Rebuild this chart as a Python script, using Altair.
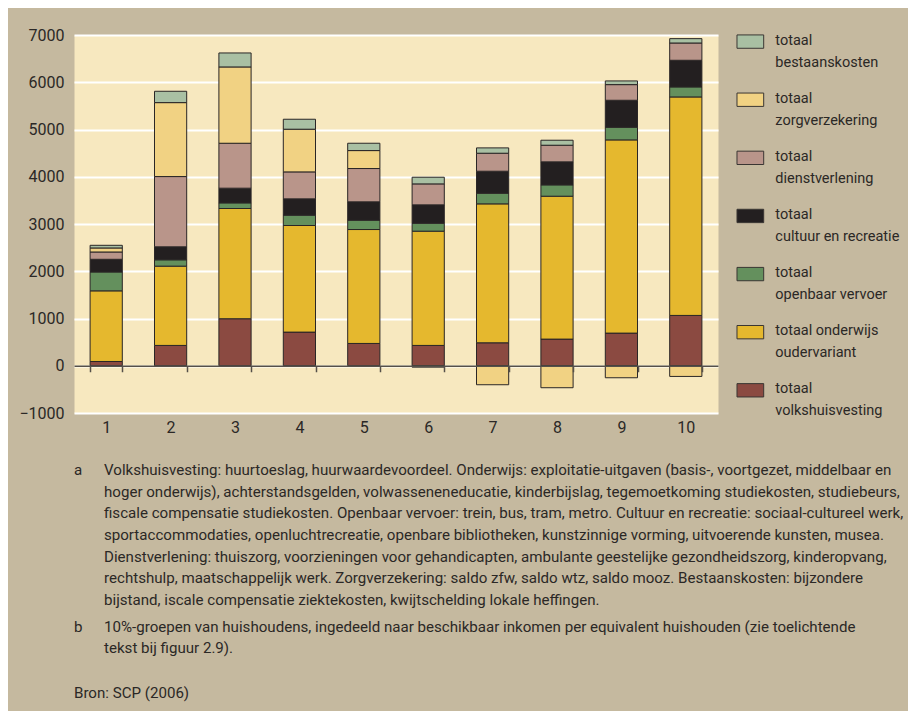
import altair as alt
import pandas as pd

# ---------------- data ----------------
groups = ["1", "2", "3", "4", "5", "6", "7", "8", "9", "10"]

volkshuisvesting = [90, 430, 995, 712, 472, 430, 486, 564, 691, 1065]
onderwijs = [1495, 1678, 2333, 2256, 2411, 2418, 2940, 3024, 4089, 4624]
openbaar_vervoer = [400, 134, 119, 219, 198, 169, 226, 240, 268, 212]
cultuur_recreatie = [268, 275, 311, 345, 388, 388, 465, 487, 571, 564]
dienstverlening = [155, 1487, 951, 571, 705, 444, 381, 352, 331, 366]
zorgverzekering = [85, 1565, 1615, 903, 380, -30, -402, -465, -254, -226]
bestaanskosten = [56, 240, 296, 211, 155, 141, 113, 106, 78, 92]

# stacking order: bottom -> top
categories = [
    "totaal volkshuisvesting",
    "totaal onderwijs oudervariant",
    "totaal openbaar vervoer",
    "totaal cultuur en recreatie",
    "totaal dienstverlening",
    "totaal zorgverzekering",
    "totaal bestaanskosten",
]
label_line1 = ["totaal", "totaal onderwijs", "totaal", "totaal", "totaal", "totaal", "totaal"]
label_line2 = ["volkshuisvesting", "oudervariant", "openbaar vervoer",
               "cultuur en recreatie", "dienstverlening", "zorgverzekering", "bestaanskosten"]
colors = ["#8b4a41", "#e5b82e", "#64905d", "#231f20", "#b9958a", "#f1d283", "#a9c0a3"]
series = [volkshuisvesting, onderwijs, openbaar_vervoer, cultuur_recreatie,
          dienstverlening, zorgverzekering, bestaanskosten]

y_ticks = [-1000, 0, 1000, 2000, 3000, 4000, 5000, 6000, 7000]

note_a = [
    "Volkshuisvesting: huurtoeslag, huurwaardevoordeel. Onderwijs: exploitatie-uitgaven (basis-, voortgezet, middelbaar en",
    "hoger onderwijs), achterstandsgelden, volwasseneneducatie, kinderbijslag, tegemoetkoming studiekosten, studiebeurs,",
    "fiscale compensatie studiekosten. Openbaar vervoer: trein, bus, tram, metro. Cultuur en recreatie: sociaal-cultureel werk,",
    "sportaccommodaties, openluchtrecreatie, openbare bibliotheken, kunstzinnige vorming, uitvoerende kunsten, musea.",
    "Dienstverlening: thuiszorg, voorzieningen voor gehandicapten, ambulante geestelijke gezondheidszorg, kinderopvang,",
    "rechtshulp, maatschappelijk werk. Zorgverzekering: saldo zfw, saldo wtz, saldo mooz. Bestaanskosten: bijzondere",
    "bijstand, iscale compensatie ziektekosten, kwijtschelding lokale heffingen.",
]
note_b = [
    "10%-groepen van huishoudens, ingedeeld naar beschikbaar inkomen per equivalent huishouden (zie toelichtende",
    "tekst bij figuur 2.9).",
]
source_text = "Bron: SCP (2006)"

# ---------------- tables ----------------
rows = []
for k, (cat, vals) in enumerate(zip(categories, series)):
    for g, v in zip(groups, vals):
        rows.append({"group": g, "category": cat, "value": v, "order": k})
df = pd.DataFrame(rows)

legend_order = categories[::-1]
legend_colors = colors[::-1]
leg_df = pd.DataFrame({
    "category": categories,
    "label": [a + "\n" + b for a, b in zip(label_line1, label_line2)],
})

NOTE_GAP = 0.23
SOURCE_GAP = 1.08
body_rows, tag_rows = [], []
r = 0.0
for i, line in enumerate(note_a):
    body_rows.append({"row": r, "text": line})
    if i == 0:
        tag_rows.append({"row": r, "text": "a"})
    r += 1
r += NOTE_GAP
for i, line in enumerate(note_b):
    body_rows.append({"row": r, "text": line})
    if i == 0:
        tag_rows.append({"row": r, "text": "b"})
    r += 1
r += SOURCE_GAP
tag_rows.append({"row": r, "text": source_text})
body_df = pd.DataFrame(body_rows)
tag_df = pd.DataFrame(tag_rows)
last_row = r

# ---------------- style ----------------
FONT = "Roboto"
TXT = "#2b2826"
BG = "#c5b99f"
PLOT_BG = "#f7e8bf"
W, H = 644, 378
LINE = 21.67

color_scale = alt.Scale(domain=legend_order, range=legend_colors)

main = alt.Chart(df).mark_bar(stroke="#2a2626", strokeWidth=1).encode(
    x=alt.X("group:N", sort=groups,
            scale=alt.Scale(paddingInner=0.5, paddingOuter=0.25),
            axis=alt.Axis(title=None, labelAngle=0, offset=-H / 8, grid=False,
                          domainColor="#55504a", domainWidth=1.5,
                          tickBand="extent", tickColor="#55504a", tickSize=6, tickWidth=1.5,
                          labelPadding=48, labelFontSize=16, labelFont=FONT,
                          labelColor=TXT, zindex=1)),
    y=alt.Y("value:Q", stack="zero",
            scale=alt.Scale(domain=[-1000, 7000], nice=False, zero=False),
            axis=alt.Axis(title=None, values=y_ticks, format="d", grid=True, gridColor="white",
                          gridWidth=2, domain=False, ticks=False, labelPadding=10,
                          labelFontSize=16, labelFont=FONT, labelColor=TXT)),
    color=alt.Color("category:N", scale=color_scale, legend=None),
    order=alt.Order("order:Q", sort="ascending"),
).properties(width=W, height=H, view=alt.ViewBackground(fill=PLOT_BG, stroke="transparent"))

leg_y = alt.Y("category:N", sort=legend_order,
              scale=alt.Scale(type="point", range=[6.6, 355.3], padding=0), axis=None)
swatches = alt.Chart(leg_df).mark_point(
    shape="M-1,-0.5H1V0.5H-1Z", size=713, filled=True, opacity=1,
    stroke="#3a3633", strokeWidth=1,
).encode(x=alt.value(13.35), y=leg_y,
         color=alt.Color("category:N", scale=color_scale, legend=None))
labels = alt.Chart(leg_df).mark_text(
    align="left", baseline="top", dy=-8, lineBreak="\n", lineHeight=22,
    fontSize=14.5, font=FONT, color=TXT,
).encode(x=alt.value(38.3), y=leg_y, text="label:N")
legend = alt.layer(swatches, labels).properties(
    width=170, height=H, view=alt.ViewBackground(fill="transparent", stroke="transparent"))

fy = alt.Y("row:Q", scale=alt.Scale(domain=[0, last_row], range=[10, 10 + last_row * LINE]),
           axis=None)
body = alt.Chart(body_df).mark_text(
    align="left", baseline="middle", fontSize=15.1, font=FONT, color=TXT,
    limit=812, ellipsis=" ",
).encode(x=alt.value(30), y=fy, text="text:N")
tags = alt.Chart(tag_df).mark_text(
    align="left", baseline="middle", fontSize=15.1, font=FONT, color=TXT,
).encode(x=alt.value(0), y=fy, text="text:N")
notes = alt.layer(tags, body).properties(
    width=820, height=10 + last_row * LINE + 12,
    view=alt.ViewBackground(fill="transparent", stroke="transparent"))

top = alt.hconcat(main, legend, spacing=15).resolve_scale(y="independent", x="independent")
chart = alt.vconcat(top, notes, spacing=22).properties(
    background=BG, padding={"left": 10, "top": 18, "right": 0, "bottom": 5}
).configure_view(stroke="transparent")

chart.save("out.html", embed_options={"renderer": "svg", "actions": False})
